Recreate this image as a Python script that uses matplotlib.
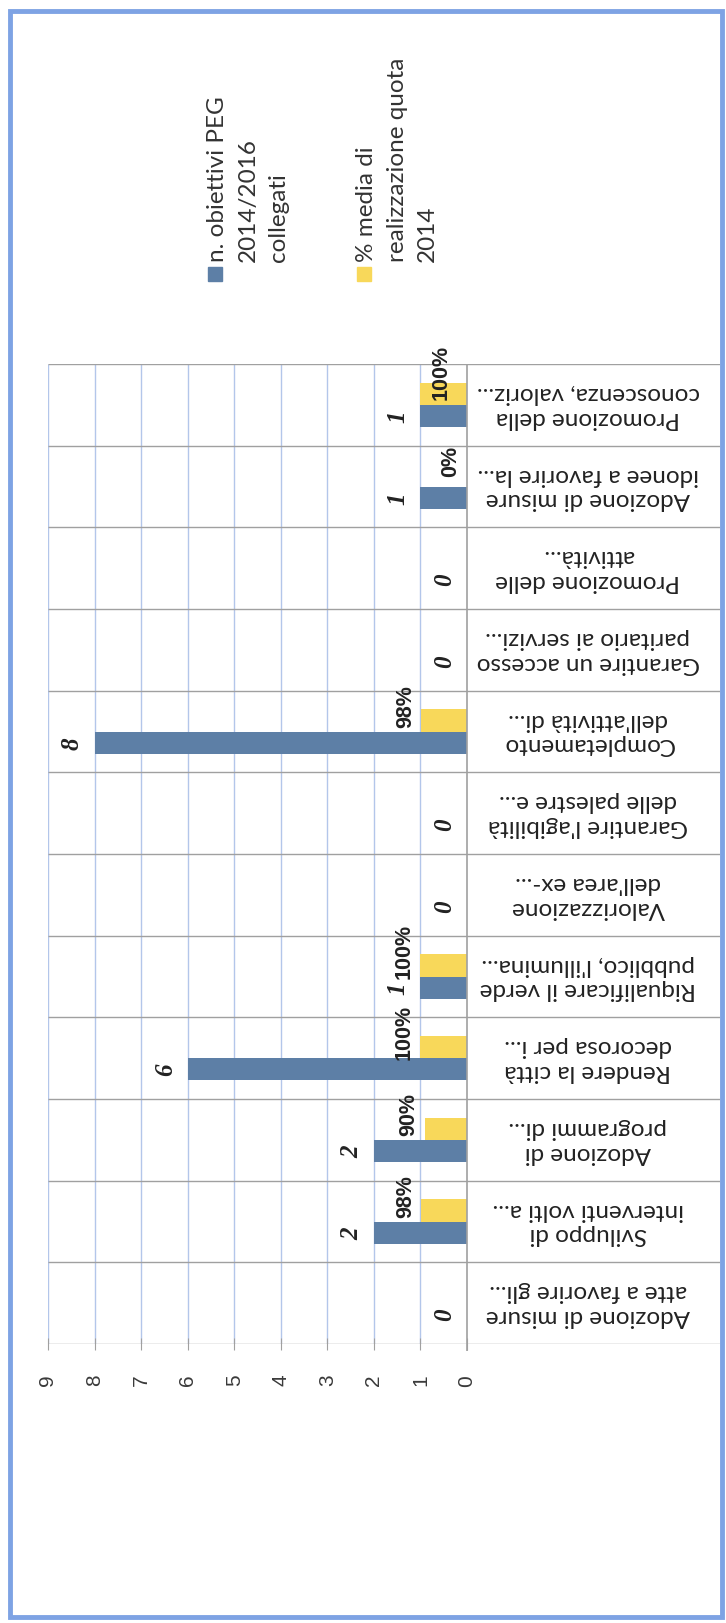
import numpy as np
import matplotlib
matplotlib.use("Agg")
import matplotlib.pyplot as plt
from matplotlib.patches import Rectangle

# categories, first one is drawn at the bottom
categories = [
    "Adozione di misure\natte a favorire gli...",
    "Sviluppo di\ninterventi volti a...",
    "Adozione di\nprogrammi di...",
    "Rendere la città\ndecorosa per i...",
    "Riqualificare il verde\npubblico, l'illumina...",
    "Valorizzazione\ndell'area ex-...",
    "Garantire l'agibilità\ndelle palestre e...",
    "Completamento\ndell'attività di...",
    "Garantire un accesso\nparitario ai servizi...",
    "Promozione delle\nattività...",
    "Adozione di misure\nidonee a favorire la...",
    "Promozione della\nconoscenza, valoriz...",
]
n_obiettivi = [0, 2, 2, 6, 1, 0, 0, 8, 0, 0, 1, 1]
perc_realizz = [np.nan, 98, 90, 100, 100, np.nan, np.nan, 98, np.nan, np.nan, 0, 100]
legend_1 = ["n. obiettivi PEG", "2014/2016", "collegati"]
legend_2 = ["% media di", "realizzazione quota", "2014"]
value_ticks = list(range(10))

W, H = 726, 1624
BLUE = "#5d7fa6"
YELLOW = "#f8d85a"
GRID = "#b3c6ea"
LINE = "#a0a0a0"


def fx(px):
    return px / W


def fy(py):
    return 1 - py / H


def main():
    fig = plt.figure(figsize=(W / 100, H / 100), dpi=100)

    # plot area (value 9 at x=48, value 0 at x=467, labels up to x=720)
    left, zero, right, top, bottom = 48, 467, 720, 365, 1345
    ax = fig.add_axes([fx(left), fy(bottom), (right - left) / W, (bottom - top) / H])
    per_px = 9 / (zero - left)
    xmin_val = -(right - zero) * per_px
    ax.set_xlim(9, xmin_val)
    ax.set_ylim(0, len(categories))
    for s in ax.spines.values():
        s.set_visible(False)

    # grid and separators
    ax.vlines(value_ticks[1:], 0, len(categories), color=GRID, lw=1, zorder=0)
    ax.vlines(0, -0.08, len(categories), color=LINE, lw=1.2, zorder=3, clip_on=False)
    ax.hlines(range(len(categories) + 1), 9, xmin_val, color=LINE, lw=1, zorder=1)

    ax.set_xticks(value_ticks)
    ax.set_yticks([])
    ax.tick_params(axis="x", direction="inout", length=9, color=LINE, pad=17,
                   labelsize=15, labelcolor="#3a3a3a", labelrotation=90)
    for t in ax.get_xticklabels():
        t.set_fontfamily("Liberation Sans")

    # bars
    y = np.arange(len(categories)) + 0.5
    bh = 0.27
    perc = np.array(perc_realizz, dtype=float)
    ax.barh(y - bh / 2, n_obiettivi, height=bh, color=BLUE, zorder=2)
    ax.barh(y + bh / 2, np.nan_to_num(perc) / 100, height=bh, color=YELLOW, zorder=2)

    # data labels
    for yi, v in zip(y, n_obiettivi):
        ax.annotate(str(v), (v, yi - bh / 2), xytext=(-16, 0), textcoords="offset points",
                    rotation=90, ha="center", va="center", fontsize=18,
                    fontfamily="Liberation Serif", fontstyle="italic", fontweight="bold",
                    color="#222222")
    last = len(categories) - 1
    for i, (yi, p) in enumerate(zip(y, perc)):
        if np.isnan(p):
            continue
        if i == last:
            # this label was dragged onto the bar, across the plot top
            ax.annotate(f"{p:.0f}%", (p / 100 * 0.55, len(categories) - 0.09),
                        rotation=90, ha="center", va="center",
                        fontsize=15.5, fontfamily="Liberation Sans", fontweight="bold",
                        color="#222222", annotation_clip=False, zorder=4)
            continue
        ax.annotate(f"{p:.0f}%", (p / 100, yi + bh / 2), xytext=(-11.5, 11),
                    textcoords="offset points", rotation=90, ha="center", va="center",
                    fontsize=15.5, fontfamily="Liberation Sans", fontweight="bold",
                    color="#222222")

    # category labels, upside down
    lab_x = -(588 - zero) * per_px
    for yi, lab in zip(y, categories):
        ax.text(lab_x, yi, lab, rotation=180, ha="center", va="center",
                multialignment="center", fontsize=17.5, fontfamily="Lato",
                color="#222222", linespacing=1.2)

    # legend drawn by hand, rotated
    for x0, lines, col in [(215, legend_1, BLUE), (364, legend_2, YELLOW)]:
        fig.patches.append(Rectangle((fx(x0 - 7), fy(282)), 14 / W, 14 / H,
                                     transform=fig.transFigure, color=col))
        for i, line in enumerate(lines):
            fig.text(fx(x0 + 3 + 30 * i), fy(262), line, rotation=90, ha="center",
                     va="bottom", fontsize=17.5, fontfamily="Lato", color="#333333")

    # outer frame
    fig.patches.append(Rectangle((fx(10), fy(1618)), (722 - 10) / W, (1618 - 12) / H,
                                 transform=fig.transFigure, fill=False,
                                 edgecolor="#7ea3e4", lw=3.5))

    fig.savefig("out.png", dpi=100)
    plt.close(fig)


if __name__ == "__main__":
    main()
